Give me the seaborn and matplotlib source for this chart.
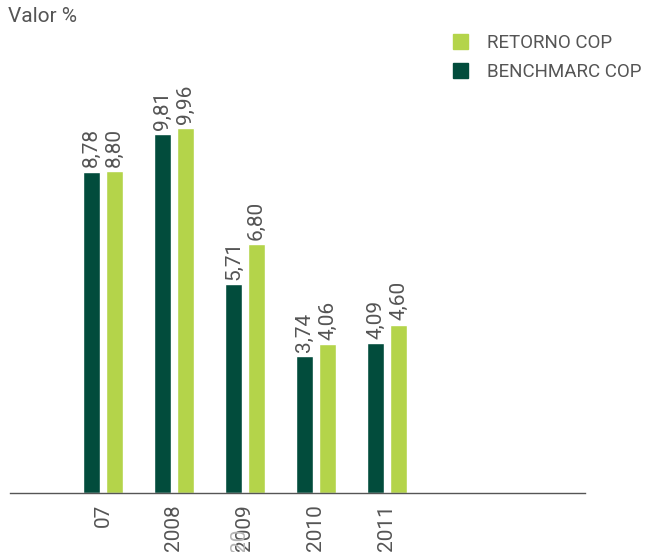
import matplotlib
matplotlib.use("Agg")
import matplotlib.pyplot as plt
import seaborn as sns
import pandas as pd
from matplotlib.patches import Patch

# Data
years = ["07", "2008", "2009", "2010", "2011"]
benchmarc_cop = [8.78, 9.81, 5.71, 3.74, 4.09]
retorno_cop = [8.80, 9.96, 6.80, 4.06, 4.60]
series_names = ["BENCHMARC COP", "RETORNO COP"]

dark_green = "#024c3c"
light_green = "#b4d44a"
text_grey = "#555555"

df = pd.DataFrame({
    "year": years * 2,
    "serie": [series_names[0]] * len(years) + [series_names[1]] * len(years),
    "valor": benchmarc_cop + retorno_cop,
})

sns.set_theme(style="white")
plt.rcParams["font.family"] = ["Roboto", "DejaVu Sans"]

fig = plt.figure(figsize=(6.48, 5.52), dpi=100)
W, H = 648, 552
ax = fig.add_axes([10 / W, (H - 493) / H, 575 / W, (493 - 20) / H])

sns.barplot(data=df, x="year", y="valor", hue="serie", order=years,
            hue_order=series_names, palette=[dark_green, light_green],
            width=0.648, gap=0.26, saturation=1, ax=ax, legend=False)

for container in ax.containers:
    ax.bar_label(container, labels=[f"{v:.2f}".replace(".", ",") for v in container.datavalues],
                 rotation=90, padding=3, fontsize=15, color=text_grey)

ax.set_xlim(-1.31, 6.79)
ax.set_ylim(0, 12.92)
ax.set_xlabel("")
ax.set_ylabel("")
ax.set_yticks([])
for side in ["left", "right", "top"]:
    ax.spines[side].set_visible(False)
ax.spines["bottom"].set_color("#555555")
ax.spines["bottom"].set_linewidth(1.0)
ax.tick_params(axis="x", length=0, pad=8, labelsize=15, labelcolor=text_grey,
               rotation=90)
for lbl in ax.get_xticklabels():
    lbl.set_va("top")

# stray "20" fragment under the 2009 label
ax.text(1.93, -0.96, "20", rotation=90, ha="center", va="top", fontsize=15,
        color="#b5b5b5")

fig.text(8 / W, 1 - 17 / H, "Valor %", ha="left", va="center", fontsize=15,
         color=text_grey)

handles = [Patch(color=light_green, label="RETORNO COP"),
           Patch(color=dark_green, label="BENCHMARC COP")]
fig.legend(handles=handles, loc="upper left", bbox_to_anchor=(436 / W, 1 - 17 / H),
           frameon=False, fontsize=13.5, handlelength=0.8, handleheight=0.8,
           handletextpad=1.0, labelspacing=0.6, labelcolor=text_grey)

fig.savefig("out.png", dpi=100)
